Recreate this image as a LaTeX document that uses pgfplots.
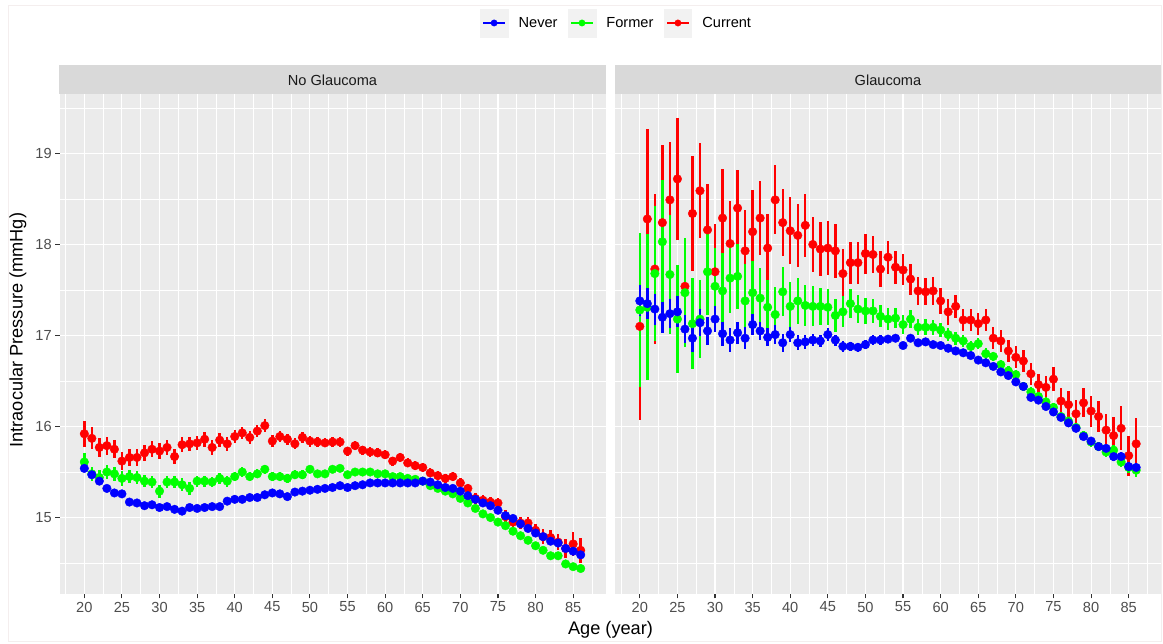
\documentclass[border=0pt]{standalone}
\usepackage{fontspec}
\setmainfont{Liberation Sans}
\usepackage{pgfplots}
\usepackage{pgfplotstable}
\pgfplotsset{compat=1.18}
\definecolor{panelbg}{HTML}{EBEBEB}
\definecolor{stripbg}{HTML}{D9D9D9}
\definecolor{keybg}{HTML}{F2F2F2}
\definecolor{ticklab}{HTML}{4D4D4D}
\definecolor{tickc}{HTML}{333333}
\definecolor{stripc}{HTML}{1A1A1A}
\definecolor{neverc}{HTML}{0000FF}
\definecolor{formerc}{HTML}{00FF00}
\definecolor{currentc}{HTML}{FF0000}
\definecolor{framec}{HTML}{F4EEEE}

% ---------- No Glaucoma ----------
\pgfplotstableread{
x y e
20 15.54 0.04
21 15.47 0.04
22 15.40 0.04
23 15.32 0.03
24 15.27 0.03
25 15.26 0.03
26 15.17 0.03
27 15.16 0.03
28 15.13 0.03
29 15.14 0.02
30 15.11 0.02
31 15.12 0.02
32 15.09 0.02
33 15.07 0.02
34 15.11 0.02
35 15.10 0.02
36 15.11 0.02
37 15.12 0.02
38 15.12 0.02
39 15.18 0.02
40 15.20 0.02
41 15.20 0.02
42 15.22 0.02
43 15.22 0.02
44 15.25 0.02
45 15.27 0.02
46 15.26 0.02
47 15.23 0.02
48 15.28 0.02
49 15.29 0.02
50 15.30 0.02
51 15.31 0.02
52 15.32 0.02
53 15.33 0.02
54 15.35 0.02
55 15.33 0.02
56 15.35 0.02
57 15.36 0.02
58 15.38 0.02
59 15.38 0.02
60 15.38 0.02
61 15.38 0.02
62 15.38 0.02
63 15.38 0.02
64 15.38 0.02
65 15.40 0.02
66 15.39 0.02
67 15.36 0.02
68 15.33 0.02
69 15.32 0.02
70 15.29 0.02
71 15.24 0.02
72 15.20 0.02
73 15.16 0.02
74 15.13 0.02
75 15.08 0.03
76 15.02 0.03
77 14.99 0.03
78 14.93 0.03
79 14.88 0.03
80 14.83 0.03
81 14.79 0.03
82 14.74 0.03
83 14.72 0.03
84 14.66 0.04
85 14.63 0.04
86 14.59 0.04
}\NGnev

\pgfplotstableread{
x y e
20 15.61 0.10
21 15.48 0.08
22 15.44 0.08
23 15.50 0.08
24 15.48 0.08
25 15.43 0.08
26 15.45 0.07
27 15.44 0.07
28 15.40 0.07
29 15.39 0.07
30 15.29 0.07
31 15.39 0.07
32 15.39 0.07
33 15.36 0.07
34 15.32 0.07
35 15.40 0.06
36 15.40 0.06
37 15.39 0.06
38 15.43 0.06
39 15.40 0.06
40 15.45 0.05
41 15.50 0.05
42 15.45 0.05
43 15.48 0.05
44 15.53 0.05
45 15.45 0.05
46 15.45 0.05
47 15.43 0.05
48 15.47 0.05
49 15.47 0.05
50 15.53 0.04
51 15.48 0.04
52 15.48 0.04
53 15.53 0.04
54 15.54 0.04
55 15.47 0.04
56 15.50 0.04
57 15.50 0.04
58 15.50 0.04
59 15.48 0.04
60 15.48 0.03
61 15.45 0.03
62 15.45 0.03
63 15.43 0.03
64 15.42 0.03
65 15.40 0.03
66 15.35 0.03
67 15.32 0.03
68 15.29 0.03
69 15.26 0.03
70 15.21 0.03
71 15.16 0.03
72 15.10 0.03
73 15.04 0.03
74 15.00 0.03
75 14.95 0.03
76 14.91 0.03
77 14.85 0.03
78 14.80 0.03
79 14.75 0.03
80 14.69 0.03
81 14.64 0.03
82 14.58 0.03
83 14.58 0.03
84 14.49 0.03
85 14.46 0.03
86 14.44 0.03
}\NGfor

\pgfplotstableread{
x y e
20 15.92 0.14
21 15.87 0.12
22 15.77 0.10
23 15.79 0.10
24 15.75 0.10
25 15.62 0.10
26 15.66 0.09
27 15.66 0.09
28 15.71 0.09
29 15.75 0.09
30 15.73 0.09
31 15.77 0.08
32 15.67 0.08
33 15.80 0.08
34 15.81 0.08
35 15.82 0.08
36 15.86 0.08
37 15.77 0.08
38 15.85 0.08
39 15.81 0.08
40 15.89 0.07
41 15.93 0.07
42 15.88 0.07
43 15.95 0.07
44 16.01 0.07
45 15.84 0.07
46 15.89 0.06
47 15.86 0.06
48 15.81 0.06
49 15.88 0.06
50 15.84 0.06
51 15.83 0.05
52 15.82 0.05
53 15.83 0.05
54 15.83 0.05
55 15.73 0.05
56 15.79 0.05
57 15.74 0.05
58 15.72 0.05
59 15.71 0.05
60 15.69 0.05
61 15.62 0.05
62 15.66 0.05
63 15.60 0.05
64 15.57 0.05
65 15.55 0.05
66 15.49 0.05
67 15.46 0.05
68 15.43 0.05
69 15.45 0.05
70 15.38 0.05
71 15.32 0.05
72 15.21 0.06
73 15.19 0.06
74 15.17 0.06
75 15.16 0.06
76 15.01 0.07
77 14.95 0.07
78 14.94 0.07
79 14.94 0.07
80 14.86 0.07
81 14.79 0.08
82 14.78 0.08
83 14.73 0.09
84 14.66 0.10
85 14.71 0.13
86 14.64 0.14
}\NGcur

% ---------- Glaucoma ----------
\pgfplotstableread{
x y e
20 17.38 0.17
21 17.35 0.17
22 17.29 0.17
23 17.20 0.17
24 17.24 0.16
25 17.26 0.17
26 17.07 0.15
27 16.97 0.15
28 17.14 0.15
29 17.05 0.15
30 17.18 0.14
31 17.02 0.13
32 16.95 0.13
33 17.03 0.12
34 16.97 0.12
35 17.12 0.12
36 17.05 0.10
37 16.98 0.10
38 17.01 0.10
39 16.92 0.10
40 17.01 0.08
41 16.92 0.08
42 16.93 0.08
43 16.95 0.07
44 16.94 0.07
45 17.01 0.07
46 16.95 0.06
47 16.88 0.06
48 16.88 0.05
49 16.87 0.05
50 16.90 0.05
51 16.95 0.05
52 16.95 0.05
53 16.96 0.04
54 16.97 0.04
55 16.89 0.04
56 16.97 0.04
57 16.92 0.04
58 16.93 0.04
59 16.90 0.04
60 16.89 0.04
61 16.86 0.04
62 16.83 0.04
63 16.81 0.04
64 16.78 0.04
65 16.73 0.04
66 16.70 0.04
67 16.66 0.04
68 16.60 0.04
69 16.56 0.04
70 16.49 0.04
71 16.44 0.04
72 16.32 0.04
73 16.29 0.04
74 16.22 0.04
75 16.16 0.04
76 16.10 0.04
77 16.04 0.04
78 15.98 0.04
79 15.89 0.04
80 15.84 0.04
81 15.78 0.04
82 15.76 0.04
83 15.67 0.05
84 15.67 0.05
85 15.56 0.05
86 15.55 0.05
}\Gnev

\pgfplotstableread{
x y e
20 17.28 0.85
21 17.31 0.80
22 17.68 0.74
23 18.03 0.68
24 17.67 0.65
25 17.18 0.59
26 17.47 0.60
27 17.13 0.50
28 17.18 0.43
29 17.70 0.48
30 17.54 0.42
31 17.49 0.42
32 17.63 0.38
33 17.65 0.36
34 17.38 0.40
35 17.47 0.35
36 17.41 0.33
37 17.31 0.30
38 17.23 0.30
39 17.48 0.27
40 17.32 0.27
41 17.38 0.25
42 17.33 0.23
43 17.32 0.22
44 17.32 0.20
45 17.31 0.20
46 17.22 0.18
47 17.26 0.17
48 17.35 0.16
49 17.29 0.15
50 17.27 0.14
51 17.27 0.13
52 17.21 0.12
53 17.18 0.12
54 17.19 0.11
55 17.12 0.10
56 17.18 0.10
57 17.09 0.09
58 17.09 0.09
59 17.09 0.08
60 17.06 0.08
61 17.01 0.07
62 16.97 0.07
63 16.94 0.07
64 16.88 0.06
65 16.91 0.06
66 16.80 0.06
67 16.77 0.05
68 16.68 0.05
69 16.61 0.05
70 16.57 0.05
71 16.44 0.05
72 16.38 0.05
73 16.33 0.05
74 16.27 0.05
75 16.21 0.05
76 16.11 0.05
77 16.06 0.05
78 15.99 0.05
79 15.90 0.05
80 15.83 0.05
81 15.78 0.05
82 15.72 0.06
83 15.74 0.06
84 15.61 0.06
85 15.55 0.06
86 15.52 0.07
}\Gfor

\pgfplotstableread{
x y e
20 17.10 1.03
21 18.28 0.99
22 17.73 0.82
23 18.24 0.85
24 18.49 0.64
25 18.72 0.67
26 17.54 0.52
27 18.34 0.63
28 18.59 0.52
29 18.16 0.50
30 17.70 0.53
31 18.29 0.54
32 18.01 0.47
33 18.40 0.42
34 17.93 0.45
35 18.14 0.46
36 18.29 0.41
37 17.96 0.37
38 18.49 0.38
39 18.24 0.37
40 18.15 0.37
41 18.10 0.35
42 18.21 0.35
43 18.00 0.30
44 17.95 0.30
45 17.96 0.30
46 17.93 0.30
47 17.68 0.27
48 17.80 0.23
49 17.80 0.23
50 17.90 0.22
51 17.89 0.20
52 17.73 0.20
53 17.86 0.18
54 17.75 0.18
55 17.72 0.17
56 17.62 0.17
57 17.49 0.15
58 17.48 0.15
59 17.49 0.15
60 17.38 0.14
61 17.26 0.14
62 17.32 0.13
63 17.17 0.12
64 17.17 0.12
65 17.13 0.12
66 17.17 0.12
67 16.97 0.12
68 16.94 0.12
69 16.83 0.12
70 16.76 0.12
71 16.72 0.12
72 16.58 0.12
73 16.46 0.12
74 16.43 0.12
75 16.52 0.13
76 16.28 0.14
77 16.24 0.15
78 16.14 0.15
79 16.26 0.16
80 16.17 0.17
81 16.11 0.17
82 15.96 0.18
83 15.90 0.20
84 15.98 0.24
85 15.68 0.22
86 15.81 0.28
}\Gcur

\pgfplotsset{
  panel/.style={
    scale only axis, width=546pt, height=499.7pt,
    xmin=16.7, xmax=89.3, ymin=14.16, ymax=19.65,
    axis background/.style={fill=panelbg},
    axis line style={draw=none},
    xtick={20,25,...,85}, ytick={15,16,17,18,19},
    minor xtick={17.5,22.5,...,87.5}, minor ytick={14.5,15.5,...,19.5},
    grid=both,
    major grid style={white, line width=1.1pt},
    minor grid style={white, line width=0.55pt},
    tick align=outside, major tick length=4.3pt, minor tick length=0pt,
    tick style={color=tickc, line width=1.1pt},
    xtick pos=bottom, ytick pos=left,
    tick label style={color=ticklab, font=\fontsize{14.6}{16}\selectfont},
    /pgf/number format/assume math mode=true,
    every axis title shift=0pt,
    title style={at={(axis description cs:0.5,1)}, anchor=south, yshift=0pt,
      fill=stripbg, minimum width=546pt, minimum height=28.6pt, inner sep=0pt,
      text=stripc, font=\fontsize{14.6}{16}\selectfont},
  },
  pr/.style={only marks, mark=*, mark size=4.3pt, color=#1,
    mark options={draw=none, fill=#1}, forget plot,
    error bars/.cd, y dir=both, y explicit, error mark=none,
    error bar style={line width=2.4pt, color=#1}},
}

\begin{document}
\begin{tikzpicture}
\useasboundingbox (0pt,0pt) rectangle (1163pt,644pt);
\draw[framec, line width=1pt] (8pt,2pt) rectangle (1161pt,638pt);

\begin{axis}[panel, at={(59.5pt,50pt)}, anchor=south west,
  title={No Glaucoma},
  xlabel={Age (year)},
  xlabel style={at={(axis description cs:1.0092,-0.072)}, anchor=center, font=\fontsize{18.2}{20}\selectfont},
  ylabel={Intraocular Pressure (mmHg)},
  ylabel style={at={(axis description cs:-0.076,0.528)}, anchor=center, font=\fontsize{18.2}{20}\selectfont},
  legend style={at={(axis description cs:0.7509,1.1427)}, anchor=west, draw=none, fill=none,
    legend columns=3, column sep=0pt, row sep=0pt, inner sep=0pt,
    nodes={inner sep=0pt}, font=\fontsize{14.6}{16}\selectfont},
  legend cell align=left,
]
\addlegendimage{legend image code/.code={\path (-10.5pt,0pt) (38pt,0pt);
  \fill[keybg] (0pt,-14pt) rectangle (27.5pt,14pt);
  \draw[neverc,line width=2.3pt] (3pt,0pt) -- (24.5pt,0pt);
  \fill[neverc] (13.75pt,0pt) circle (3.2pt);}}
\addlegendentry{Never}
\addlegendimage{legend image code/.code={\path (-10.5pt,0pt) (38pt,0pt);
  \fill[keybg] (0pt,-14pt) rectangle (27.5pt,14pt);
  \draw[formerc,line width=2.3pt] (3pt,0pt) -- (24.5pt,0pt);
  \fill[formerc] (13.75pt,0pt) circle (3.2pt);}}
\addlegendentry{Former}
\addlegendimage{legend image code/.code={\path (-10.5pt,0pt) (38pt,0pt);
  \fill[keybg] (0pt,-14pt) rectangle (27.5pt,14pt);
  \draw[currentc,line width=2.3pt] (3pt,0pt) -- (24.5pt,0pt);
  \fill[currentc] (13.75pt,0pt) circle (3.2pt);}}
\addlegendentry{Current}

\addplot[pr=currentc] table[x=x,y=y,y error=e]{\NGcur};
\addplot[pr=formerc] table[x=x,y=y,y error=e]{\NGfor};
\addplot[pr=neverc] table[x=x,y=y,y error=e]{\NGnev};
\end{axis}

\begin{axis}[panel, at={(615pt,50pt)}, anchor=south west,
  title={Glaucoma},
  yticklabels={}, ytick style={draw=none},
]
\addplot[pr=currentc] table[x=x,y=y,y error=e]{\Gcur};
\addplot[pr=formerc] table[x=x,y=y,y error=e]{\Gfor};
\addplot[pr=neverc] table[x=x,y=y,y error=e]{\Gnev};
\end{axis}
\end{tikzpicture}
\end{document}
